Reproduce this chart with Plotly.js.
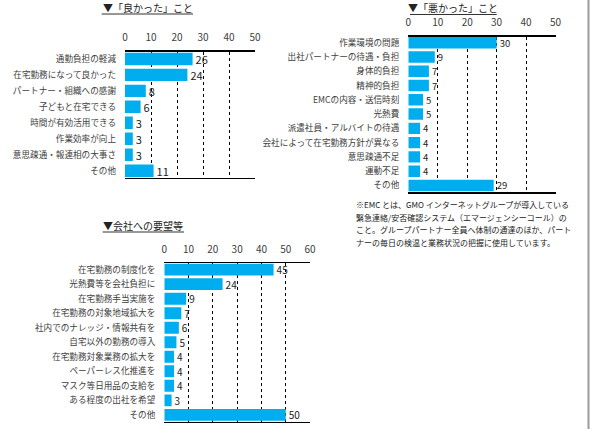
<!DOCTYPE html>
<html>
<head>
<meta charset="utf-8">
<script src="https://cdn.plot.ly/plotly-3.0.1.min.js"></script>
<style>
  html, body { margin: 0; padding: 0; background: #fff; }
  #chart { width: 590px; height: 429px; }
</style>
</head>
<body>
<div id="chart"></div>
<script>
// 「良かった」こと
const goodLabels = ['通勤負担の軽減', '在宅勤務になって良かった', 'パートナー・組織への感謝', '子どもと在宅できる',
  '時間が有効活用できる', '作業効率が向上', '意思疎通・報連相の大事さ', 'その他'];
const goodValues = [26, 24, 8, 6, 3, 3, 3, 11];

// 「悪かった」こと
const badLabels = ['作業環境の問題', '出社パートナーの待遇・負担', '身体的負担', '精神的負担', 'EMCの内容・送信時刻',
  '光熱費', '派遣社員・アルバイトの待遇', '会社によって在宅勤務方針が異なる', '意思疎通不足', '運動不足', 'その他'];
const badValues = [30, 9, 7, 7, 5, 5, 4, 4, 4, 4, 29];

// 会社への要望等
const reqLabels = ['在宅勤務の制度化を', '光熱費等を会社負担に', '在宅勤務手当実施を', '在宅勤務の対象地域拡大を',
  '社内でのナレッジ・情報共有を', '自宅以外の勤務の導入', '在宅勤務対象業務の拡大を', 'ペーパーレス化推進を',
  'マスク等日用品の支給を', 'ある程度の出社を希望', 'その他'];
const reqValues = [45, 24, 9, 7, 6, 5, 4, 4, 4, 3, 50];

const titles = ['▼「良かった」こと', '▼「悪かった」こと', '▼会社への要望等'];
const noteLines = [
  '※EMC とは、GMO インターネットグループが導入している',
  '緊急連絡/安否確認システム（エマージェンシーコール）の',
  'こと。グループパートナー全員へ体制の通達のほか、パート',
  'ナーの毎日の検温と業務状況の把握に使用しています。'
];

const W = 590, H = 429;
const px = x => x / W;          // pixel -> paper x
const py = y => 1 - y / H;      // pixel -> paper y

const FONT = '"Noto Sans CJK JP", "Noto Sans", sans-serif';
const BAR = '#00AEEF';

function barTrace(labels, values, n, width, size) {
  return {
    type: 'bar', orientation: 'h',
    x: values, y: labels,
    xaxis: 'x' + (n === 1 ? '' : n), yaxis: 'y' + (n === 1 ? '' : n),
    marker: { color: BAR, line: { width: 0 } },
    width: width,
    text: values.map(String), textposition: 'outside', constraintext: 'none',
    textfont: { family: FONT, size: size, color: '#222' },
    cliponaxis: false, hoverinfo: 'skip'
  };
}

function xAxis(domain, max, anchor) {
  const vals = [];
  for (let v = 0; v <= max; v += 10) vals.push(v);
  return {
    domain: domain, anchor: anchor, side: 'top', range: [0, max],
    tickvals: vals, ticks: '', ticklabelstandoff: 5,
    tickfont: { family: FONT, size: 10, color: '#404040' },
    showgrid: true, gridcolor: '#000', griddash: 'dot', gridwidth: 1,
    zeroline: false, showline: true, mirror: true, linecolor: '#000', linewidth: 1.3,
    fixedrange: true
  };
}

function yAxis(domain, labels, range, anchor) {
  return {
    domain: domain, anchor: anchor, type: 'category',
    categoryarray: labels, range: range,
    ticks: '', ticklabelstandoff: 8,
    tickfont: { family: FONT, size: 8.6, color: '#404040' },
    showgrid: false, zeroline: false, showline: false, fixedrange: true
  };
}

const data = [
  barTrace(goodLabels, goodValues, 1, 0.78, 11),
  barTrace(badLabels, badValues, 2, 0.8, 9.5),
  barTrace(reqLabels, reqValues, 3, 0.82, 10)
];

// plot frames (pixel positions of the three panels)
const p1 = { l: 125, r: 255, t: 51.7, b: 178 };
const p2 = { l: 408.3, r: 555.5, t: 36.7, b: 192.3 };
const p3 = { l: 164.3, r: 310, t: 262.8, b: 421.7 };

const dom = p => ({ x: [px(p.l), px(p.r)], y: [py(p.b), py(p.t)] });
const d1 = dom(p1), d2 = dom(p2), d3 = dom(p3);

const layout = {
  width: W, height: H,
  margin: { l: 0, r: 0, t: 0, b: 0 },
  paper_bgcolor: '#fff', plot_bgcolor: '#fff',
  showlegend: false,
  font: { family: FONT, color: '#333' },
  xaxis: xAxis(d1.x, 50, 'y'),
  yaxis: yAxis(d1.y, goodLabels, [goodLabels.length - 0.55, -0.45], 'x'),
  xaxis2: xAxis(d2.x, 50, 'y2'),
  yaxis2: yAxis(d2.y, badLabels, [badLabels.length - 0.52, -0.42], 'x2'),
  xaxis3: xAxis(d3.x, 60, 'y3'),
  yaxis3: yAxis(d3.y, reqLabels, [reqLabels.length - 0.53, -0.47], 'x3'),
  annotations: [],
  shapes: []
};

// panel titles with underline
const titlePos = [
  { cx: 147.5, cy: 7.5, ul: [101.7, 193, 14] },
  { cx: 453, cy: 7.5, ul: [410, 496.7, 14.5] },
  { cx: 143, cy: 225, ul: [102.7, 184, 232] }
];
titles.forEach((t, i) => {
  const p = titlePos[i];
  layout.annotations.push({
    text: t, xref: 'paper', yref: 'paper', x: px(p.cx), y: py(p.cy),
    xanchor: 'center', yanchor: 'middle', showarrow: false,
    font: { family: FONT, size: 10, color: '#222' }
  });
  layout.shapes.push({
    type: 'line', xref: 'paper', yref: 'paper',
    x0: px(p.ul[0]), x1: px(p.ul[1]), y0: py(p.ul[2]), y1: py(p.ul[2]),
    line: { color: '#333', width: 1.2 }
  });
});

// footnote under the second panel
noteLines.forEach((line, i) => {
  layout.annotations.push({
    text: line, xref: 'paper', yref: 'paper', x: px(354), y: py(205 + i * 12.4),
    xanchor: 'left', yanchor: 'middle', showarrow: false,
    font: { family: FONT, size: 8, color: '#222' }
  });
});

// thin grey rule along the right edge
layout.shapes.push({
  type: 'line', xref: 'paper', yref: 'paper',
  x0: px(588.5), x1: px(588.5), y0: 0, y1: 1,
  line: { color: '#9a9a9a', width: 2 }
});

Plotly.newPlot('chart', data, layout, { staticPlot: true, displayModeBar: false });
</script>
</body>
</html>
